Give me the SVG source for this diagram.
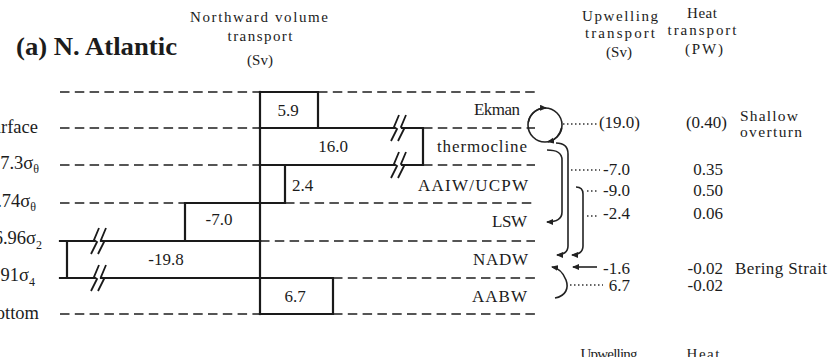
<svg xmlns="http://www.w3.org/2000/svg" width="836" height="357" viewBox="0 0 836 357" font-family="Liberation Serif, Times New Roman, serif">
<style>
.t{font-family:"Liberation Serif","Times New Roman",serif;fill:#1c1c1c}
.b{stroke:#1a1a1a;stroke-width:2.2;fill:none;stroke-linecap:square}
.d{stroke:#555;stroke-width:2;stroke-dasharray:9.5 5.3;fill:none}
.brk{stroke:#1a1a1a;stroke-width:1.8;fill:none}
.c{stroke:#222;stroke-width:1.6;fill:none}
.dot{stroke:#333;stroke-width:1.3;stroke-dasharray:1.5 2.5;fill:none}
.lbl{font-size:17px}
.num{font-size:17px}
.hd{font-size:15px;text-anchor:middle}
.ll{font-size:18.5px;text-anchor:end}
</style>
<defs>
<marker id="ah" markerUnits="userSpaceOnUse" markerWidth="8" markerHeight="7" refX="6" refY="3" orient="auto">
<path d="M0,0 L7,3 L0,6 z" fill="#222"/>
</marker>
</defs>
<rect width="836" height="357" fill="#fff"/>

<g id="title">
<text class="t" x="16" y="55" font-size="26" font-weight="bold" textLength="161" lengthAdjust="spacingAndGlyphs">(a) N. Atlantic</text>
</g>

<g id="header-northward">
<text class="t hd" x="259" y="22" textLength="138">Northward volume</text>
<text class="t hd" x="260" y="41" textLength="65">transport</text>
<text class="t hd" x="260" y="65">(Sv)</text>
</g>
<g id="header-upwelling">
<text class="t hd" x="620" y="21" textLength="76">Upwelling</text>
<text class="t hd" x="620" y="38" textLength="70">transport</text>
<text class="t hd" x="619" y="57">(Sv)</text>
</g>
<g id="header-heat">
<text class="t hd" x="702" y="18" textLength="30">Heat</text>
<text class="t hd" x="702" y="35" textLength="69">transport</text>
<text class="t hd" x="704" y="54" textLength="38">(PW)</text>
</g>

<g id="layer-lines">
<path class="d" d="M60,92H260 M318,92H535"/>
<path class="d" d="M60,128H260 M423,128H535"/>
<path class="d" d="M60,165H260 M423,165H535"/>
<path class="d" d="M60,203H185 M285,203H535"/>
<path class="d" d="M260,241H535"/>
<path class="d" d="M333,278H535"/>
<path class="d" d="M60,314H260 M333,314H535"/>
</g>

<g id="layer-labels">
<text class="t ll" x="38" y="133">Surface</text>
<text class="t ll" x="39" y="169">27.3σ<tspan font-size="12" dy="4">θ</tspan></text>
<text class="t ll" x="36" y="207">27.74σ<tspan font-size="12" dy="4">θ</tspan></text>
<text class="t ll" x="42" y="244">36.96σ<tspan font-size="12" dy="5">2</tspan></text>
<text class="t ll" x="35" y="281">45.91σ<tspan font-size="12" dy="5">4</tspan></text>
<text class="t ll" x="39" y="319">Bottom</text>
</g>

<g id="axis">
<path class="b" d="M260,92V314"/>
</g>

<g id="box-ekman">
<path class="b" d="M260,92H318V128H260"/>
<text class="t num" x="288" y="116" text-anchor="middle">5.9</text>
</g>
<g id="box-thermocline">
<path class="b" d="M260,128H394 M402,128H423V165H402 M394,165H260"/>
<path class="brk" d="M399,115 L394,127 L397,129 L391,141 M406,115 L401,127 L404,129 L398,141"/>
<path class="brk" d="M399,152 L394,164 L397,166 L391,178 M406,152 L401,164 L404,166 L398,178"/>
<text class="t num" x="333" y="152" text-anchor="middle">16.0</text>
</g>
<g id="box-aaiw">
<path class="b" d="M260,165H285V203H260"/>
<text class="t num" x="292" y="191">2.4</text>
</g>
<g id="box-lsw">
<path class="b" d="M260,203H185V241H260"/>
<text class="t num" x="219" y="225" text-anchor="middle">-7.0</text>
</g>
<g id="box-nadw">
<path class="b" d="M260,241H101 M94,241H60 M67,241V278 M60,278H94 M101,278H260"/>
<path class="brk" d="M99,228 L94,240 L97,242 L91,254 M106,228 L101,240 L104,242 L98,254"/>
<path class="brk" d="M99,265 L94,277 L97,279 L91,291 M106,265 L101,277 L104,279 L98,291"/>
<text class="t num" x="166" y="265" text-anchor="middle">-19.8</text>
</g>
<g id="box-aabw">
<path class="b" d="M260,278H333V314H260"/>
<text class="t num" x="295" y="302" text-anchor="middle">6.7</text>
</g>

<g id="water-mass-labels">
<text class="t lbl" x="520" y="115" text-anchor="end" textLength="46">Ekman</text>
<text class="t lbl" x="527" y="152" text-anchor="end" textLength="90">thermocline</text>
<text class="t lbl" x="528" y="191" text-anchor="end" textLength="110">AAIW/UCPW</text>
<text class="t lbl" x="527" y="227" text-anchor="end" textLength="35">LSW</text>
<text class="t lbl" x="528" y="265" text-anchor="end" textLength="55">NADW</text>
<text class="t lbl" x="527" y="302" text-anchor="end" textLength="55">AABW</text>
</g>

<g id="connectors">
<circle class="c" cx="545" cy="125" r="17"/>
<path class="c" d="M528.5,122 A17,17 0 0 1 546,108" marker-end="url(#ah)"/>
<path class="c" d="M561.5,128 A17,17 0 0 1 548,141.7" marker-end="url(#ah)"/>
<path class="dot" d="M563,124H597"/>
<path class="c" d="M547,150 C556,150 562,152 562,160 V212 C562,219 556,222 547,222" marker-end="url(#ah)"/>
<path class="c" d="M556,143 C564,143 568,146 568,154 V246 C568,252 563,255 557,255" marker-end="url(#ah)"/>
<path class="c" d="M576,187 C581,187 583,189 583,194 V246 C583,252 578,255 572,255" marker-end="url(#ah)"/>
<path class="dot" d="M571,170H600"/>
<path class="dot" d="M587,191H599"/>
<path class="dot" d="M587,216H598"/>
<path class="c" d="M597,267H573" marker-end="url(#ah)"/>
<path class="c" d="M555,298 C566,296 569,288 566,280 C563,272 558,268 552,267" marker-end="url(#ah)"/>
<path class="dot" d="M570,285H603"/>
</g>

<g id="upwelling-values">
<text class="t num" x="640" y="128" text-anchor="end">(19.0)</text>
<text class="t num" x="630" y="175" text-anchor="end">-7.0</text>
<text class="t num" x="630" y="196" text-anchor="end">-9.0</text>
<text class="t num" x="630" y="219" text-anchor="end">-2.4</text>
<text class="t num" x="630" y="274" text-anchor="end">-1.6</text>
<text class="t num" x="630" y="291" text-anchor="end">6.7</text>
</g>
<g id="heat-values">
<text class="t num" x="727" y="128" text-anchor="end">(0.40)</text>
<text class="t num" x="723" y="175" text-anchor="end">0.35</text>
<text class="t num" x="723" y="196" text-anchor="end">0.50</text>
<text class="t num" x="723" y="219" text-anchor="end">0.06</text>
<text class="t num" x="723" y="274" text-anchor="end">-0.02</text>
<text class="t num" x="723" y="291" text-anchor="end">-0.02</text>
</g>
<g id="notes">
<text class="t" x="740" y="121" font-size="15.5" textLength="58">Shallow</text>
<text class="t" x="740" y="137" font-size="15.5" textLength="62">overturn</text>
<text class="t lbl" x="735" y="274" textLength="92">Bering Strait</text>
</g>

<g id="next-header">
<text class="t hd" x="609" y="359" textLength="57">Upwelling</text>
<text class="t hd" x="703" y="359" textLength="33">Heat</text>
</g>
</svg>
